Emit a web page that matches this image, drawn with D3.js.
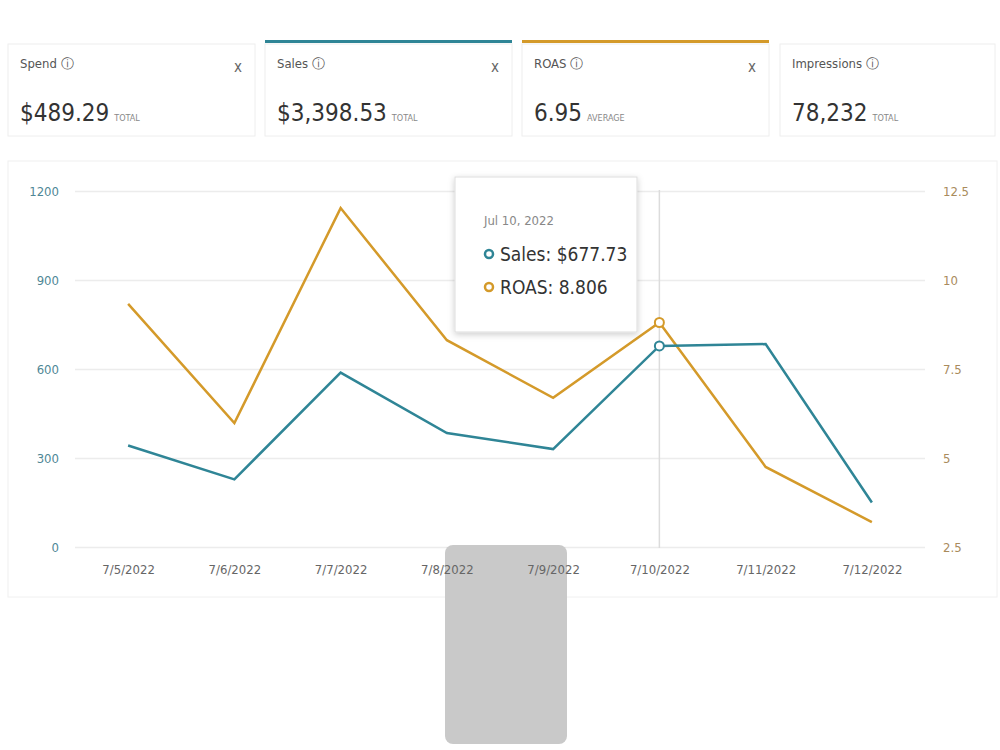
<!DOCTYPE html>
<html>
<head>
<meta charset="utf-8">
<script src="https://cdn.jsdelivr.net/npm/d3@7"></script>
<style>
  body { margin: 0; background: #fff; }
  svg { font-family: "Liberation Sans Narrow", "DejaVu Sans Condensed", sans-serif; }
</style>
</head>
<body>
<script>
// data
var dates = ["7/5/2022", "7/6/2022", "7/7/2022", "7/8/2022", "7/9/2022", "7/10/2022", "7/11/2022", "7/12/2022"];
var sales = [342, 228, 588, 384, 330, 677.73, 684, 150];
var roas = [9.33, 5.98, 12.02, 8.31, 6.69, 8.806, 4.75, 3.2];
var salesTicks = [0, 300, 600, 900, 1200];
var roasTicks = [2.5, 5, 7.5, 10, 12.5];
var cardNames = ["Spend", "Sales", "ROAS", "Impressions"];
var cardValues = ["$489.29", "$3,398.53", "6.95", "78,232"];
var cardUnits = ["TOTAL", "TOTAL", "AVERAGE", "TOTAL"];

var width = 1000;
var height = 750;
var teal = "#2f8596";
var gold = "#d49a2a";

var svg = d3.select("body")
  .append("svg")
  .attr("width", width)
  .attr("height", height);

// metric cards
var cardX = [8, 265, 522, 780];
var cardW = 247;
var topColor = [null, teal, gold, null];
var card = svg.selectAll("g.card")
  .data(cardNames)
  .enter()
  .append("g")
  .attr("class", "card")
  .attr("transform", function (d, i) { return "translate(" + cardX[i] + ",44)"; });

card.append("rect")
  .attr("width", function (d, i) { return i == 3 ? 215 : cardW; })
  .attr("height", 92)
  .attr("fill", "#fff")
  .attr("stroke", "#eeeeee");

card.filter(function (d, i) { return topColor[i]; })
  .append("rect")
  .attr("y", -4)
  .attr("width", cardW)
  .attr("height", 3)
  .attr("fill", function (d, i) { return i == 0 ? teal : gold; });

card.append("text")
  .attr("x", 12)
  .attr("y", 24)
  .attr("font-size", "13px")
  .attr("fill", "#555")
  .text(function (d) { return d + " \u24D8"; });

card.filter(function (d, i) { return i < 3; })
  .append("text")
  .attr("x", 226)
  .attr("y", 28)
  .attr("font-size", "15px")
  .attr("fill", "#666")
  .text("x");

card.append("text")
  .attr("x", 12)
  .attr("y", 77)
  .attr("font-size", "24px")
  .attr("fill", "#333")
  .text(function (d, i) { return cardValues[i]; })
  .append("tspan")
  .attr("dx", 5)
  .attr("font-size", "9px")
  .attr("fill", "#888")
  .text(function (d, i) { return cardUnits[i]; });

// chart panel
svg.append("rect")
  .attr("x", 8)
  .attr("y", 161)
  .attr("width", 989)
  .attr("height", 436)
  .attr("fill", "#fff")
  .attr("stroke", "#f0f0f0");

var x = d3.scalePoint().domain(dates).range([75, 925]).padding(0.5);
var ySales = d3.scaleLinear().domain([0, 1200]).range([547, 191]);
var yRoas = d3.scaleLinear().domain([2.5, 12.5]).range([547, 191]);

// grid lines
svg.append("g")
  .attr("transform", "translate(75,0)")
  .call(d3.axisLeft(ySales).tickValues(salesTicks).tickSize(-850).tickFormat(""))
  .call(function (g) { g.select(".domain").remove(); })
  .selectAll("line")
  .attr("stroke", "#ececec")
  .attr("stroke-width", 1.5);

var leftAxis = svg.append("g")
  .attr("transform", "translate(62,0)")
  .attr("font-family", null)
  .call(d3.axisLeft(ySales).tickValues(salesTicks).tickSize(0).tickFormat(d3.format("d")));
leftAxis.attr("font-family", null).select(".domain").remove();
leftAxis.selectAll("text")
  .attr("font-size", "13px")
  .attr("fill", "#4f8796");

var rightAxis = svg.append("g")
  .attr("transform", "translate(940,0)")
  .call(d3.axisRight(yRoas).tickValues(roasTicks).tickSize(0).tickFormat(function (d) { return String(d); }));
rightAxis.attr("font-family", null).select(".domain").remove();
rightAxis.selectAll("text")
  .attr("font-size", "13px")
  .attr("fill", "#a98b5c");

// grey overlay block
svg.append("rect")
  .attr("x", 445)
  .attr("y", 545)
  .attr("width", 122)
  .attr("height", 199)
  .attr("rx", 8)
  .attr("fill", "#c9c9c9");

var bottomAxis = svg.append("g")
  .attr("transform", "translate(0,562)")
  .call(d3.axisBottom(x).tickSize(0));
bottomAxis.attr("font-family", null).select(".domain").remove();
bottomAxis.selectAll("text")
  .attr("font-size", "13px")
  .attr("fill", "#666");

// hover line
svg.append("line")
  .attr("x1", x("7/10/2022"))
  .attr("x2", x("7/10/2022"))
  .attr("y1", 190)
  .attr("y2", 548)
  .attr("stroke", "#dcdcdc")
  .attr("stroke-width", 1.5);

var line = d3.line().x(function (d, i) { return x(dates[i]); });

svg.append("path")
  .datum(roas)
  .attr("fill", "none")
  .attr("stroke", gold)
  .attr("stroke-width", 2.5)
  .attr("d", line.y(function (d) { return yRoas(d); }));

svg.append("path")
  .datum(sales)
  .attr("fill", "none")
  .attr("stroke", teal)
  .attr("stroke-width", 2.5)
  .attr("d", line.y(function (d) { return ySales(d); }));

var hi = 5;
svg.append("circle")
  .attr("cx", x(dates[hi])).attr("cy", yRoas(roas[hi])).attr("r", 4.5)
  .attr("fill", "#fff").attr("stroke", gold).attr("stroke-width", 2);
svg.append("circle")
  .attr("cx", x(dates[hi])).attr("cy", ySales(sales[hi])).attr("r", 4.5)
  .attr("fill", "#fff").attr("stroke", teal).attr("stroke-width", 2);

// tooltip
var defs = svg.append("defs");
var f = defs.append("filter").attr("id", "shadow").attr("x", "-20%").attr("y", "-20%").attr("width", "140%").attr("height", "140%");
f.append("feDropShadow").attr("dx", 0).attr("dy", 2).attr("stdDeviation", 3).attr("flood-color", "#000").attr("flood-opacity", 0.2);

var tip = svg.append("g").attr("transform", "translate(455,177)");
tip.append("rect")
  .attr("width", 182)
  .attr("height", 155)
  .attr("fill", "#fff")
  .attr("stroke", "#ddd")
  .attr("filter", "url(#shadow)");
tip.append("text")
  .attr("x", 29).attr("y", 48)
  .attr("font-size", "13px").attr("fill", "#888")
  .text("Jul 10, 2022");
tip.append("circle").attr("cx", 34).attr("cy", 77).attr("r", 4)
  .attr("fill", "#fff").attr("stroke", teal).attr("stroke-width", 2.5);
tip.append("text")
  .attr("x", 45).attr("y", 84)
  .attr("font-size", "19px").attr("fill", "#333")
  .text("Sales: $" + sales[hi].toFixed(2));
tip.append("circle").attr("cx", 34).attr("cy", 110).attr("r", 4)
  .attr("fill", "#fff").attr("stroke", gold).attr("stroke-width", 2.5);
tip.append("text")
  .attr("x", 45).attr("y", 117)
  .attr("font-size", "19px").attr("fill", "#333")
  .text("ROAS: " + roas[hi]);
</script>
</body>
</html>
